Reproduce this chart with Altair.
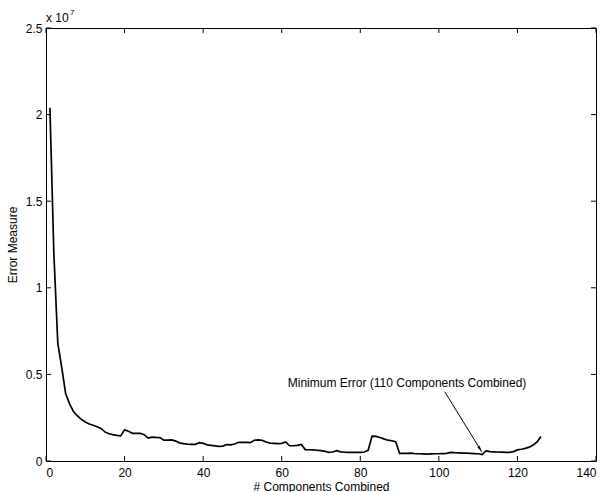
import altair as alt
import pandas as pd

# ---- data ----
components = list(range(1, 127))
error_e6 = [
    20.4, 12.0, 6.8, 5.4, 3.9, 3.3, 2.85, 2.6, 2.4, 2.25,
    2.14, 2.06, 1.98, 1.88, 1.68, 1.57, 1.52, 1.48, 1.45, 1.80,
    1.72, 1.60, 1.60, 1.60, 1.52, 1.32, 1.38, 1.36, 1.35, 1.20,
    1.20, 1.22, 1.15, 1.05, 1.00, 0.97, 0.96, 0.96, 1.06, 1.02,
    0.93, 0.90, 0.87, 0.84, 0.86, 0.95, 0.93, 0.98, 1.08, 1.08,
    1.07, 1.06, 1.20, 1.22, 1.20, 1.10, 1.03, 1.02, 1.00, 1.02,
    1.10, 0.88, 0.88, 0.90, 0.96, 0.66, 0.65, 0.64, 0.62, 0.60,
    0.56, 0.50, 0.52, 0.60, 0.53, 0.51, 0.50, 0.50, 0.50, 0.50,
    0.52, 0.62, 1.44, 1.42, 1.36, 1.28, 1.20, 1.17, 1.12, 0.44,
    0.44, 0.44, 0.45, 0.42, 0.42, 0.41, 0.40, 0.41, 0.42, 0.42,
    0.43, 0.44, 0.50, 0.48, 0.47, 0.46, 0.45, 0.44, 0.43, 0.42,
    0.37, 0.58, 0.54, 0.53, 0.52, 0.51, 0.50, 0.50, 0.54, 0.64,
    0.68, 0.73, 0.80, 0.92, 1.10, 1.42,
]
x_ticks = [0, 20, 40, 60, 80, 100, 120, 140]
y_ticks = [0, 5e6, 1e7, 1.5e7, 2e7, 2.5e7]

annot_text = ["Minimum Error (110 Components Combined)"]
annot_xy = [91.9, 4.5e6]
arrow_from = [101.5, 4.0e6]
arrow_to = [110.9, 0.54e6]

W, H = 550, 433
FONT = "Liberation Sans"

df = pd.DataFrame({"x": components, "y": [v * 1e6 for v in error_e6]})
dfx = pd.DataFrame({"t": x_ticks})
dfy = pd.DataFrame({"t": y_ticks})

xs = alt.Scale(domain=[0, 140], nice=False, zero=False)
ys = alt.Scale(domain=[0, 2.5e7], nice=False, zero=False)

line = alt.Chart(df).mark_line(color="black", strokeWidth=1.7).encode(
    x=alt.X("x:Q", scale=xs, title="# Components Combined",
            axis=alt.Axis(values=x_ticks, labelPadding=6, titlePadding=3)),
    y=alt.Y("y:Q", scale=ys, title="Error Measure",
            axis=alt.Axis(values=y_ticks, labelExpr="datum.value / 10000000",
                          labelPadding=4, titlePadding=6)),
)

tick_style = dict(color="black", strokeWidth=1)
xb = alt.Chart(dfx).mark_rule(**tick_style).encode(
    x=alt.X("t:Q", scale=xs), y=alt.value(H), y2=alt.value(H - 5))
xt = alt.Chart(dfx).mark_rule(**tick_style).encode(
    x=alt.X("t:Q", scale=xs), y=alt.value(0), y2=alt.value(5))
yl = alt.Chart(dfy).mark_rule(**tick_style).encode(
    y=alt.Y("t:Q", scale=ys), x=alt.value(0), x2=alt.value(5))
yr = alt.Chart(dfy).mark_rule(**tick_style).encode(
    y=alt.Y("t:Q", scale=ys), x=alt.value(W), x2=alt.value(W - 5))

dfa = pd.DataFrame({"x": [annot_xy[0]], "y": [annot_xy[1]], "label": annot_text})
label = alt.Chart(dfa).mark_text(font=FONT, fontSize=12, color="black",
                                 align="center", baseline="middle").encode(
    x=alt.X("x:Q", scale=xs), y=alt.Y("y:Q", scale=ys), text="label:N")

dfarr = pd.DataFrame({"x": [arrow_from[0]], "y": [arrow_from[1]],
                      "x2": [arrow_to[0]], "y2": [arrow_to[1]]})
arrow = alt.Chart(dfarr).mark_rule(color="black", strokeWidth=1).encode(
    x=alt.X("x:Q", scale=xs), y=alt.Y("y:Q", scale=ys), x2="x2:Q", y2="y2:Q")
head = alt.Chart(dfarr).mark_point(
    shape="M0,0 L-0.45,2 L0.45,2 Z", size=36, filled=True, color="black",
    opacity=1, angle=148).encode(
    x=alt.X("x2:Q", scale=xs), y=alt.Y("y2:Q", scale=ys))

exp_base = alt.Chart(dfa).mark_text(font=FONT, fontSize=12, color="black",
                                    align="left", baseline="alphabetic").encode(
    x=alt.value(0), y=alt.value(-6), text=alt.value("x 10"))
exp_sup = alt.Chart(dfa).mark_text(font=FONT, fontSize=8, color="black",
                                   align="left", baseline="alphabetic").encode(
    x=alt.value(24), y=alt.value(-13), text=alt.value("7"))

chart = alt.layer(line, xb, xt, yl, yr, arrow, head, label, exp_base, exp_sup).properties(
    width=W, height=H,
    autosize=alt.AutoSizeParams(type="none"),
    padding={"left": 46, "top": 28, "right": 10, "bottom": 31},
    background="white",
).configure_view(stroke="black", strokeWidth=1).configure_axis(
    domain=False, ticks=False, grid=False,
    labelFont=FONT, labelFontSize=12, labelColor="black",
    titleFont=FONT, titleFontSize=12, titleColor="black", titleFontWeight="normal",
)

chart.save("out.html", embed_options={"renderer": "svg", "actions": False})
